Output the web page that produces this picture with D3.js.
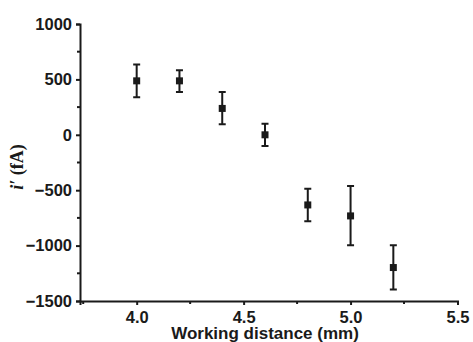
<!DOCTYPE html>
<html>
<head>
<meta charset="utf-8">
<script src="https://d3js.org/d3.v7.min.js"></script>
<style>
  body { margin: 0; background: #fff; }
  svg { display: block; }
  .tick text { font-family: "Liberation Sans", Arial, sans-serif; font-weight: bold; font-size: 16.5px; fill: #1a1a1a; }
  .axis path, .axis line { stroke: #1a1a1a; stroke-width: 2px; }
</style>
</head>
<body>
<svg></svg>
<script>
  // data
  var distance = [4.0, 4.2, 4.4, 4.6, 4.8, 5.0, 5.2];
  var current  = [487, 487, 238, 0, -633, -732, -1198];
  var errLow   = [340, 387, 96, -102, -780, -996, -1396];
  var errHigh  = [634, 583, 387, 99, -486, -462, -996];
  var xTicks = [4.0, 4.5, 5.0, 5.5];
  var yTicks = [-1500, -1000, -500, 0, 500, 1000];

  var W = 473, H = 342;
  var svg = d3.select("svg").attr("width", W).attr("height", H);

  var x = d3.scaleLinear().domain([3.735, 5.5]).range([80, 457.5]);
  var y = d3.scaleLinear().domain([-1500, 1000]).range([301, 24]);
  var ink = "#1a1a1a";

  // minor ticks
  var xMinor = [3.75, 4.25, 4.75, 5.25];
  var yMinor = [-1250, -750, -250, 250, 750];
  svg.append("g").selectAll("line").data(xMinor).enter().append("line")
    .attr("x1", function (d) { return x(d); }).attr("x2", function (d) { return x(d); })
    .attr("y1", 301).attr("y2", 304).attr("stroke", ink).attr("stroke-width", 2);
  svg.append("g").selectAll("line").data(yMinor).enter().append("line")
    .attr("y1", function (d) { return y(d); }).attr("y2", function (d) { return y(d); })
    .attr("x1", 80).attr("x2", 77).attr("stroke", ink).attr("stroke-width", 2);

  svg.append("g").attr("class", "axis").attr("transform", "translate(0,301)")
    .call(d3.axisBottom(x).tickValues(xTicks).tickFormat(d3.format(".1f")).tickSizeOuter(0).tickSize(4).tickPadding(6));
  svg.append("g").attr("class", "axis").attr("transform", "translate(80,0)")
    .call(d3.axisLeft(y).tickValues(yTicks).tickFormat(d3.format("d")).tickSizeOuter(0).tickSize(4).tickPadding(4));

  // error bars
  var pts = distance.map(function (d, i) {
    return { x: d, v: current[i], lo: errLow[i], hi: errHigh[i] };
  });
  var g = svg.append("g");
  g.selectAll(".eb").data(pts).enter().append("path")
    .attr("fill", "none").attr("stroke", ink).attr("stroke-width", 2)
    .attr("d", function (d) {
      var cx = x(d.x), c = 3.5;
      return "M" + (cx - c) + "," + y(d.hi) + "H" + (cx + c) +
        "M" + cx + "," + y(d.hi) + "V" + y(d.lo) +
        "M" + (cx - c) + "," + y(d.lo) + "H" + (cx + c);
    });
  g.selectAll(".pt").data(pts).enter().append("rect")
    .attr("x", function (d) { return x(d.x) - 3.5; })
    .attr("y", function (d) { return y(d.v) - 3.5; })
    .attr("width", 7).attr("height", 7).attr("fill", ink);

  // axis titles
  svg.append("text")
    .attr("x", 265).attr("y", 338.5).attr("text-anchor", "middle")
    .style("font-family", "Liberation Sans, Arial, sans-serif").style("font-weight", "bold").style("font-size", "17px")
    .attr("fill", ink).text("Working distance (mm)");

  var yl = svg.append("text")
    .attr("transform", "translate(23,167) rotate(-90)").attr("text-anchor", "middle")
    .style("font-family", "Liberation Serif, Times New Roman, serif").style("font-weight", "bold").style("font-size", "18px")
    .attr("fill", ink);
  yl.append("tspan").style("font-style", "italic").text("i\u2032");
  yl.append("tspan").text(" (fA)");
</script>
</body>
</html>
